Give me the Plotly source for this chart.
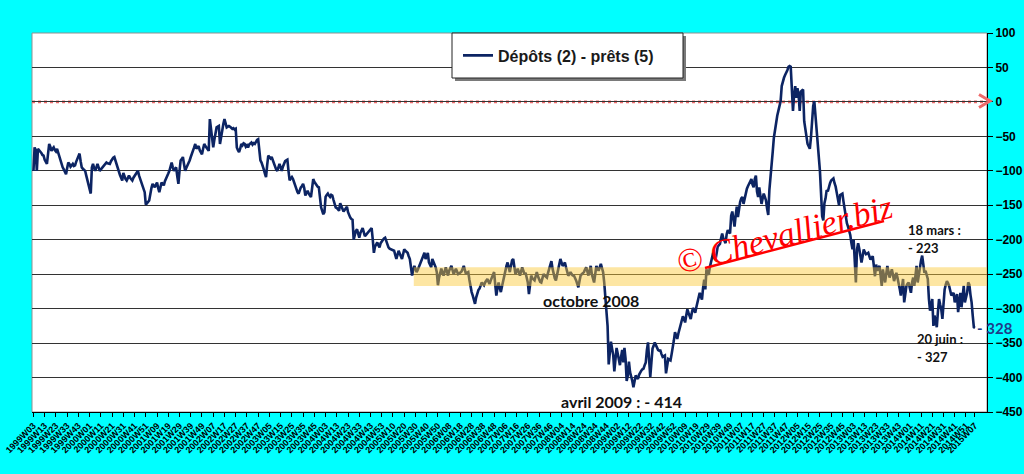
import datetime
import plotly.graph_objects as go

# Weekly values "Dépôts (2) - prêts (5)", one list per ISO year (1999 starts at W03)
v1999 = [-100,-66,-70,-100,-68,-70,-71,-74,-77,-78,-84,-88,-90,-75,-61,-65,-71,-68,-66,-70,
         -72,-68,-74,-80,-86,-92,-95,-98,-102,-105,-96,-88,-90,-94,-92,-90,-93,-92,-87,-83,
         -79,-75,-86,-95,-97,-99,-100,-107,-114,-122]
v2000 = [-129,-133,-95,-90,-96,-100,-95,-90,-95,-100,-98,-96,-95,-93,-90,-88,-89,-90,-90,-86,
         -83,-81,-80,-86,-90,-95,-100,-106,-110,-114,-103,-108,-112,-114,-110,-107,-110,-113,-114,-110,
         -107,-104,-102,-100,-107,-112,-117,-121,-126,-131,-149,-146]
v2001 = [-145,-143,-131,-125,-119,-122,-124,-120,-117,-125,-131,-124,-117,-119,-121,-115,-112,-109,-104,-100,
         -94,-88,-95,-100,-97,-95,-108,-119,-100,-85,-83,-80,-90,-100,-96,-93,-90,-85,-80,-76,
         -71,-66,-61,-68,-66,-64,-70,-74,-76,-68,-61,-64]
v2002 = [-66,-69,-71,-25,-40,-47,-66,-55,-45,-37,-36,-35,-61,-50,-42,-32,-25,-31,-37,-36,
         -35,-36,-38,-39,-38,-40,-39,-66,-70,-73,-68,-61,-63,-60,-61,-65,-63,-66,-62,-60,
         -59,-62,-60,-61,-57,-55,-54,-70,-85,-88,-92,-98]
v2003 = [-104,-109,-92,-78,-80,-82,-80,-85,-90,-95,-98,-100,-95,-90,-95,-100,-94,-88,-86,-85,
         -84,-100,-114,-111,-109,-112,-117,-122,-129,-131,-133,-128,-124,-122,-119,-125,-136,-132,-129,-133,
         -136,-138,-125,-112,-116,-119,-121,-123,-124,-140,-153,-158]
v2004 = [-163,-160,-138,-135,-133,-136,-138,-135,-136,-142,-150,-153,-154,-156,-158,-147,-150,-155,-159,-156,
         -153,-152,-160,-166,-168,-170,-171,-200,-192,-187,-185,-191,-197,-190,-185,-183,-189,-195,-193,-191,
         -190,-187,-185,-183,-200,-219,-210,-206,-204,-208,-211,-205,-202]
v2005 = [-200,-198,-197,-203,-209,-211,-213,-214,-215,-216,-216,-222,-228,-222,-216,-220,-224,-228,-221,-214,
         -216,-218,-219,-224,-228,-240,-252,-244,-238,-242,-247,-244,-240,-236,-233,-228,-223,-219,-228,-222,
         -219,-233,-237,-240,-228,-232,-235,-240,-247,-266,-255,-246]
v2006 = [-242,-248,-252,-246,-240,-246,-252,-245,-240,-238,-244,-250,-246,-242,-246,-250,-249,-248,-246,-242,
         -238,-244,-250,-248,-247,-258,-271,-276,-281,-287,-293,-284,-276,-273,-271,-266,-262,-264,-266,-262,
         -259,-257,-261,-264,-259,-255,-251,-247,-265,-281,-270,-262]
v2007 = [-270,-276,-268,-259,-250,-242,-238,-233,-240,-247,-238,-230,-228,-240,-250,-246,-242,-247,-252,-246,
         -240,-245,-250,-248,-255,-262,-279,-266,-252,-256,-258,-259,-253,-247,-253,-259,-261,-262,-256,-250,
         -252,-254,-255,-248,-242,-236,-231,-242,-252,-256,-259,-252]
v2008 = [-245,-236,-228,-233,-238,-236,-233,-240,-247,-252,-250,-247,-250,-252,-252,-255,-259,-264,-269,-260,
         -252,-250,-248,-247,-243,-240,-246,-252,-245,-238,-250,-256,-262,-250,-238,-242,-245,-240,-235,-241,
         -247,-262,-280,-300,-325,-381,-360,-348,-358,-367,-391,-370]
v2009 = [-357,-365,-377,-382,-370,-360,-378,-357,-373,-405,-397,-377,-392,-397,-405,-414,-405,-397,-400,-402,
         -396,-392,-390,-388,-387,-382,-378,-360,-349,-375,-399,-378,-358,-354,-349,-353,-358,-360,-361,-361,
         -366,-370,-369,-368,-394,-383,-373,-374,-375,-366,-358,-346,-334]
v2010 = [-338,-344,-336,-330,-325,-318,-311,-315,-320,-310,-301,-306,-312,-315,-306,-299,-302,-306,-298,-291,
         -284,-277,-282,-287,-270,-258,-272,-243,-248,-251,-240,-234,-226,-219,-224,-229,-220,-210,-208,-206,
         -198,-191,-198,-203,-205,-192,-186,-189,-191,-165,-159,-170]
v2011 = [-181,-165,-152,-167,-155,-145,-140,-138,-148,-140,-130,-126,-122,-119,-115,-112,-120,-124,-112,-107,
         -130,-138,-124,-135,-148,-140,-133,-138,-143,-155,-164,-128,-112,-95,-72,-52,-40,-32,-20,-13,
         -5,1,23,30,35,39,42,46,51,52,51,25]
v2012 = [-13,10,23,6,20,10,-13,15,17,18,-28,-37,-50,-61,-65,-68,-52,-25,-6,1,
         -23,-45,-61,-80,-100,-143,-166,-172,-147,-140,-128,-130,-121,-118,-114,-113,-111,-118,-123,-132,
         -140,-150,-135,-134,-133,-145,-157,-171,-176,-181,-187,-193]
v2013 = [-205,-214,-200,-230,-262,-214,-205,-213,-221,-233,-224,-214,-218,-221,-220,-219,-224,-229,-226,-224,
         -238,-253,-236,-245,-241,-238,-252,-267,-243,-252,-262,-250,-238,-246,-255,-249,-243,-251,-260,-254,
         -248,-255,-262,-271,-281,-269,-257,-291,-279,-267,-264,-262]
v2014 = [-270,-277,-262,-255,-267,-250,-238,-262,-250,-238,-230,-223,-235,-248,-245,-250,-257,-286,-303,-295,
         -286,-325,-310,-318,-327,-305,-286,-294,-301,-315,-290,-272,-265,-260,-263,-267,-274,-281,-279,-277,
         -291,-285,-279,-305,-290,-277,-298,-283,-267,-291,-284,-277]
v2015 = [-262,-265,-280,-291,-310,-327,-328]

values = (v1999 + v2000 + v2001 + v2002 + v2003 + v2004 + v2005 + v2006 + v2007 + v2008
          + v2009 + v2010 + v2011 + v2012 + v2013 + v2014 + v2015)
n = len(values)

# Category labels: ISO weeks starting at 1999W03
start = datetime.date.fromisocalendar(1999, 3, 1)
week_labels = []
for k in range(n):
    y, w, _ = (start + datetime.timedelta(weeks=k)).isocalendar()
    week_labels.append(f"{y}W{w:02d}")
idx = list(range(n))
tick_idx = list(range(0, n, 10))
if tick_idx[-1] != n - 1:
    tick_idx.append(n - 1)
tick_text = [week_labels[i] for i in tick_idx]

y_ticks = list(range(-450, 101, 50))
band_low, band_high = -267, -240
band_start = 338.5

NAVY = "#0C2463"
FONT = "Liberation Sans"
TFONT = "Lato"

fig = go.Figure()
fig.add_trace(go.Scatter(
    x=idx, y=values, mode="lines", name="Dépôts (2) - prêts (5)",
    line=dict(color=NAVY, width=2.6), customdata=week_labels,
    hovertemplate="%{customdata}: %{y}<extra></extra>"))

W, H = 1024, 474
L, R, T, B = 32, 37, 33, 62
pw, ph = W - L - R, H - T - B
def px(X): return (X - L) / pw
def py(Y): return (H - B - Y) / ph

shapes = [
    dict(type="rect", xref="paper", yref="paper", x0=0, x1=1, y0=0, y1=1,
         line=dict(color="#8f8f8f", width=1), layer="between"),
    dict(type="line", xref="paper", yref="y", x0=0, x1=1, y0=0, y1=0,
         line=dict(color="white", width=2), layer="between"),
    dict(type="line", xref="paper", yref="y", x0=0, x1=1, y0=0, y1=0,
         line=dict(color="#EE6A6A", width=2.6, dash="dot"), layer="between"),
    dict(type="path", xref="paper", yref="paper",
         path=f"M {px(979)},{py(94.5)} L {px(990)},{py(101)} L {px(979)},{py(107.5)}",
         line=dict(color="#EE6A6A", width=3)),
    dict(type="rect", xref="x", yref="y", x0=band_start, x1=848.7, y0=band_low, y1=band_high,
         fillcolor="rgba(250,200,50,0.45)", line=dict(width=0), layer="above"),
    dict(type="rect", xref="paper", yref="paper", x0=px(455), x1=px(686), y0=py(81), y1=py(36),
         fillcolor="#7a7a7a", line=dict(width=0), layer="above"),
    dict(type="rect", xref="paper", yref="paper", x0=px(452), x1=px(683), y0=py(78), y1=py(33),
         fillcolor="white", line=dict(color="#222222", width=1), layer="above"),
    dict(type="line", xref="paper", yref="paper", x0=px(705), y0=py(268), x1=px(884), y1=py(221),
         line=dict(color="#FF0000", width=2.5), layer="above"),
]

annotations = [
    dict(text="octobre 2008", x=px(591), y=py(300)),
    dict(text="avril 2009 : - 414", x=px(621), y=py(401)),
    dict(text="18 mars :", x=px(906), y=py(230), xanchor="left", size=13),
    dict(text="- 223", x=px(906), y=py(248), xanchor="left", size=13),
    dict(text="20 juin :", x=px(915), y=py(339), xanchor="left", size=13),
    dict(text="- 327", x=px(915), y=py(357), xanchor="left", size=13),
    dict(text="- 328", x=px(975), y=py(328), xanchor="left", size=15, color="#1F3C88"),
]
ann_objs = []
for a in annotations:
    ann_objs.append(dict(
        text=a["text"], xref="paper", yref="paper", x=a["x"], y=a["y"],
        xanchor=a.get("xanchor", "center"), yanchor="middle", showarrow=False,
        font=dict(family=TFONT, size=a.get("size", 16), color=a.get("color", "#111111"),
                  weight="bold")))
ann_objs.append(dict(
    text="© Chevallier.biz", xref="paper", yref="paper", x=px(784), y=py(234),
    xanchor="center", yanchor="middle", showarrow=False, textangle=-15,
    font=dict(family="Liberation Serif", size=34, color="#FF0000", style="italic")))

fig.update_layout(
    width=W, height=H, margin=dict(l=L, r=R, t=T, b=B, autoexpand=False),
    paper_bgcolor="#00FFFF", plot_bgcolor="white",
    shapes=shapes, annotations=ann_objs,
    showlegend=True,
    legend=dict(x=px(458), y=py(55.5), xanchor="left", yanchor="middle",
                bgcolor="rgba(0,0,0,0)", borderwidth=0,
                font=dict(family=FONT, size=16, color="#1a1a1a", weight="bold")),
    xaxis=dict(range=[-1.3, 848.7], tickmode="array", tickvals=tick_idx, ticktext=tick_text,
               tickangle=-45, tickfont=dict(family=FONT, size=9, color="black", weight="bold"),
               ticks="outside", ticklen=4, tickcolor="black", showgrid=False, zeroline=False,
               showline=True, linecolor="black", linewidth=1, automargin=False),
    yaxis=dict(range=[-450, 100], side="right", tickmode="array", tickvals=y_ticks,
               tickfont=dict(family=FONT, size=12, color="black", weight="bold"),
               ticks="outside", ticklen=5, tickcolor="black", showgrid=True,
               gridcolor="#333333", gridwidth=1, zeroline=False,
               showline=True, linecolor="black", linewidth=1, automargin=False),
)

fig.write_html("out.html", config={"displayModeBar": False},
               post_script="document.body.style.margin='0';document.body.style.background='#00FFFF';")
